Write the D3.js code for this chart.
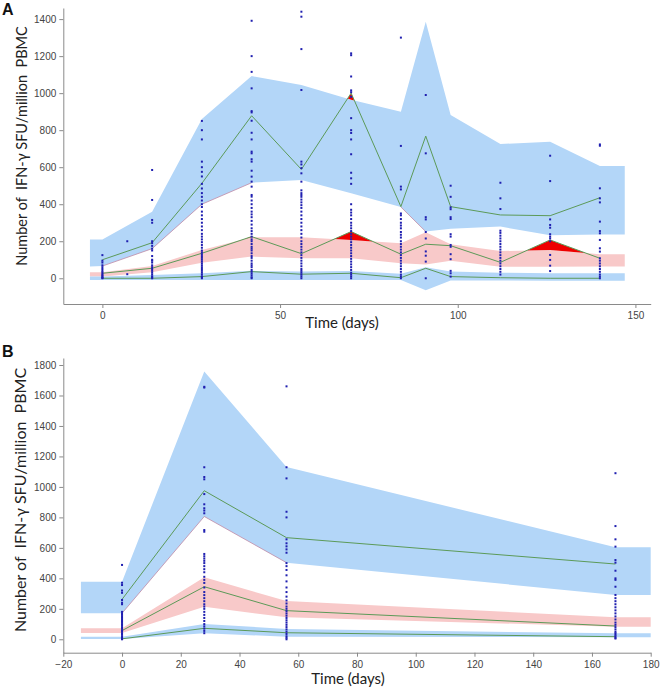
<!DOCTYPE html>
<html><head><meta charset="utf-8">
<script src="https://cdn.jsdelivr.net/npm/d3@7"></script>
<style>body{margin:0;background:#fff}svg{display:block}</style>
</head><body>
<script>
// ---------- Panel A data ----------
const aGrid   = [-3.5, 0, 14, 28, 42, 56, 70, 84, 91, 98, 112, 126, 140, 147];
const aHiTop  = [210, 210, 360, 860, 1092, 1044, 965, 900, 1386, 882, 725, 738, 606, 606];
const aHiBot  = [63, 66, 160, 400, 516, 531, 459, 385, 252, 268, 279, 232, 236, 236];
const aMidTop = [32, 32, 66, 153, 222, 221, 207, 189, 248, 184, 147, 153, 130, 130];
const aMidBot = [9, 9, 32, 84, 117, 108, 108, 81, 75, 95, 62, 62, 63, 63];
const aLoTop  = [9, 9, 18, 27, 40, 36, 39, 25, 60, 36, 30, 27, 27, 27];
const aLoBot  = [-9, -9, -10, -10, -10, -10, -10, -10, -65, -12, -12, -14, -14, -14];
const aTimes  = [0, 14, 28, 42, 56, 70, 84, 91, 98, 112, 126, 140];
const aP95    = [100, 192, 513, 878, 588, 1000, 387, 768, 387, 342, 338, 435];
const aP50    = [27, 54, 135, 225, 133, 252, 130, 184, 176, 86, 207, 108];
const aP5     = [0, 0, 9, 36, 22, 27, 3, 54, 9, 3, 0, 0];
const aEdgeSpans = [[0, 42], [84, 91]];
const aObsDays = [0, 7, 14, 28, 42, 56, 70, 84, 91, 98, 112, 126, 140];
const aObsVals = [
  [125, 95, 85, 70, 60, 50, 40, 32, 25, 18, 12, 6, 2, 0],
  [200, 22],
  [585, 423, 315, 300, 200, 190, 175, 160, 150, 120, 100, 95, 85, 70, 60, 50, 40, 30, 20, 10, 5, 0],
  [850, 800, 750, 630, 600, 575, 550, 510, 485, 460, 440, 420, 400, 385, 360, 340, 320, 300, 280, 260, 240, 225, 210, 195, 180, 165, 150, 140, 130, 120, 110, 100, 90, 80, 70, 60, 50, 40, 30, 20, 10, 5, 0],
  [1391, 1200, 1115, 1026, 903, 896, 851, 786, 750, 684, 675, 643, 630, 581, 549, 522, 495, 450, 441, 420, 400, 380, 360, 345, 330, 310, 290, 270, 255, 240, 225, 210, 200, 185, 170, 160, 150, 135, 120, 110, 95, 80, 70, 60, 45, 35, 25, 15, 5, 0],
  [1440, 1413, 1238, 1017, 630, 615, 595, 567, 522, 475, 460, 450, 440, 425, 410, 395, 380, 360, 340, 320, 300, 280, 260, 240, 220, 200, 185, 170, 155, 140, 125, 110, 95, 80, 65, 50, 40, 30, 20, 10, 0],
  [1215, 1205, 1090, 1015, 1005, 980, 865, 800, 785, 750, 670, 570, 540, 510, 400, 370, 355, 340, 320, 300, 285, 270, 255, 240, 225, 210, 195, 180, 165, 150, 135, 120, 105, 90, 75, 60, 45, 30, 20, 10, 0],
  [1300, 715, 495, 480, 350, 340, 320, 300, 285, 270, 250, 235, 220, 200, 185, 170, 155, 140, 125, 110, 95, 80, 65, 50, 35, 20, 10, 0],
  [990, 675, 330, 318, 250, 215, 145, 122, 90, 0],
  [500, 440, 383, 373, 330, 320, 238, 225, 180, 170, 130, 103, 40, 27, 9],
  [516, 432, 374, 257, 245, 230, 215, 200, 185, 170, 155, 140, 125, 110, 95, 80, 65, 50, 35, 20],
  [662, 525, 318, 288, 273, 238, 225, 215, 200, 126, 99, 68, 39],
  [723, 716, 486, 432, 410, 306, 255, 243, 207, 162, 144, 108, 95, 80, 65, 50, 35, 20, 9, 0]
];
const aYTicks = [0, 200, 400, 600, 800, 1000, 1200, 1400];
const aXTicks = [0, 50, 100, 150];

// ---------- Panel B data ----------
const bGrid   = [-14, 0, 28, 56, 168, 180];
const bHiTop  = [378, 378, 1758, 1130, 604, 604];
const bHiBot  = [171, 171, 806, 503, 291, 291];
const bMidTop = [72, 72, 407, 251, 144, 144];
const bMidBot = [42, 42, 214, 144, 83, 83];
const bLoTop  = [17, 17, 100, 68, 39, 39];
const bLoBot  = [2, 2, 39, 17, 13, 13];
const bTimes  = [0, 28, 56, 168];
const bP95    = [262, 975, 667, 494];
const bP50    = [57, 345, 188, 87];
const bP5     = [3, 72, 43, 17];
const bEdgeSpans = [[0, 56]];
const bObsDays = [0, 28, 56, 168];
const bObsVals = [
  [488, 371, 356, 320, 305, 258, 240, 230, 180, 170, 160, 150, 140, 130, 120, 110, 100, 90, 80, 70, 60, 50, 40, 30, 20, 10, 5, 0],
  [1657, 1652, 1129, 1065, 1050, 953, 886, 860, 845, 827, 717, 706, 560, 545, 530, 515, 500, 480, 460, 440, 410, 390, 370, 340, 310, 290, 270, 250, 230, 215, 200, 180, 160, 140, 120, 100, 85, 70, 55, 40],
  [1660, 1129, 1056, 837, 800, 656, 630, 610, 590, 568, 500, 480, 455, 420, 380, 340, 310, 280, 255, 235, 215, 200, 185, 170, 155, 140, 125, 110, 95, 80, 65, 50, 35, 20, 10, 0],
  [1090, 743, 656, 608, 520, 503, 450, 400, 390, 345, 291, 270, 250, 230, 210, 190, 170, 150, 130, 110, 95, 80, 65, 50, 40, 30, 20, 10, 5]
];
const bYTicks = [0, 200, 400, 600, 800, 1000, 1200, 1400, 1600, 1800];
const bXTicks = [-20, 0, 20, 40, 60, 80, 100, 120, 140, 160, 180];

const yLabel = "Number of  IFN-\u03b3 SFU/million  PBMC";
const xLabel = "Time (days)";

const BLUE = "#b3d6f8", PINK = "#f8c9c9", GREEN = "#5c9a58", RED = "#ee0000", DOT = "#1f1fb0";

const svg = d3.select("body").append("svg").attr("width", 660).attr("height", 692);
svg.append("rect").attr("width", 660).attr("height", 692).attr("fill", "#fff");

function interp(xs, ys, t) {
  for (let i = 0; i < xs.length - 1; i++) {
    if (t >= xs[i] && t <= xs[i + 1]) {
      const f = (t - xs[i]) / (xs[i + 1] - xs[i]);
      return ys[i] + f * (ys[i + 1] - ys[i]);
    }
  }
  return t < xs[0] ? ys[0] : ys[ys.length - 1];
}

function panel(cfg) {
  const g = svg.append("g");
  const x = d3.scaleLinear().domain(cfg.xDom).range(cfg.xRange);
  const y = d3.scaleLinear().domain(cfg.yDom).range(cfg.yRange);
  const band = (top, bot, color) => {
    const pts = cfg.grid.map((t, i) => ({t, a: top[i], b: bot[i]}));
    g.append("path").datum(pts)
      .attr("d", d3.area().x(d => x(d.t)).y0(d => y(d.b)).y1(d => y(d.a)))
      .attr("fill", color);
  };
  band(cfg.hiTop, cfg.hiBot, BLUE);
  band(cfg.midTop, cfg.midBot, PINK);
  band(cfg.loTop, cfg.loBot, BLUE);

  // thin edge along parts of the lower boundary of the upper band
  cfg.edgeSpans.forEach(([t0, t1]) => {
    const pts = cfg.grid.map((t, i) => [t, cfg.hiBot[i]]).filter(d => d[0] >= t0 && d[0] <= t1);
    g.append("path").datum(pts)
      .attr("d", d3.line().x(d => x(d[0])).y(d => y(d[1])))
      .attr("fill", "none").attr("stroke", "#c08aa6").attr("stroke-width", 0.8);
  });

  // red regions where observed percentile lies outside its CI band
  const exceed = (obs, edge, sign) => {
    const pts = [];
    const times = cfg.times;
    for (let i = 0; i < times.length; i++) {
      const e0 = interp(cfg.grid, edge, times[i]);
      const d0 = sign * (obs[i] - e0);
      pts.push({t: times[i], o: obs[i], e: e0, d: d0});
      if (i < times.length - 1) {
        const e1 = interp(cfg.grid, edge, times[i + 1]);
        const d1 = sign * (obs[i + 1] - e1);
        if (d0 * d1 < 0) {
          const f = d0 / (d0 - d1);
          const t = times[i] + f * (times[i + 1] - times[i]);
          const o = obs[i] + f * (obs[i + 1] - obs[i]);
          pts.push({t, o, e: o, d: 0});
        }
      }
    }
    g.append("path").datum(pts)
      .attr("d", d3.area().defined(d => d.d >= 0).x(d => x(d.t)).y0(d => y(d.e)).y1(d => y(d.o)))
      .attr("fill", RED);
  };
  [[cfg.p95, cfg.hiTop, cfg.hiBot], [cfg.p50, cfg.midTop, cfg.midBot], [cfg.p5, cfg.loTop, cfg.loBot]]
    .forEach(([o, t, b]) => { exceed(o, t, 1); exceed(o, b, -1); });

  // observed percentile lines
  [cfg.p95, cfg.p50, cfg.p5].forEach(vals => {
    g.append("path").datum(cfg.times.map((t, i) => [t, vals[i]]))
      .attr("d", d3.line().x(d => x(d[0])).y(d => y(d[1])))
      .attr("fill", "none").attr("stroke", GREEN).attr("stroke-width", 1);
  });

  // observations
  const dots = [];
  cfg.obsDays.forEach((d, i) => cfg.obsVals[i].forEach(v => dots.push([d, v])));
  g.selectAll(null).data(dots).enter().append("rect")
    .attr("x", d => x(d[0]) - 1).attr("y", d => y(d[1]) - 1)
    .attr("width", 2).attr("height", 2).attr("fill", DOT);

  // axes
  const ax = g.append("g").attr("transform", `translate(0,${cfg.yRange[0]})`)
    .call(d3.axisBottom(x).tickValues(cfg.xTicks).tickFormat(d3.format("d")).tickSize(4).tickSizeOuter(0).tickPadding(4));
  const ay = g.append("g").attr("transform", `translate(${cfg.xRange[0]},0)`)
    .call(d3.axisLeft(y).tickValues(cfg.yTicks).tickFormat(d3.format("d")).tickSize(4).tickSizeOuter(0).tickPadding(3));
  [ax, ay].forEach(a => {
    a.attr("font-family", null);
    a.select(".domain").attr("stroke", "#8a8a8a");
    a.selectAll(".tick line").attr("stroke", "#8a8a8a");
    a.selectAll(".tick text").attr("fill", "#444").style("font-family", "'Liberation Sans', Arial, sans-serif").style("font-size", "10px");
  });

  g.append("text").attr("x", cfg.xLabelPos[0]).attr("y", cfg.xLabelPos[1])
    .attr("text-anchor", "middle").style("font-family", "Lato, sans-serif").style("font-size", "15px")
    .attr("fill", "#222").text(xLabel);
  g.append("text").attr("transform", `translate(${cfg.yLabelPos[0]},${cfg.yLabelPos[1]}) rotate(-90)`)
    .attr("text-anchor", "middle").style("font-family", "Lato, sans-serif").style("font-size", cfg.yLabelSize)
    .attr("fill", "#222").style("white-space", "pre").text(yLabel);
  g.append("text").attr("x", 2).attr("y", cfg.tagY)
    .style("font-family", "'Liberation Sans', Arial, sans-serif").style("font-size", "16px").style("font-weight", "bold")
    .attr("fill", "#111").text(cfg.tag);
}

panel({
  tag: "A", tagY: 15,
  xDom: [-11, 154.3], xRange: [63.3, 650.7],
  yDom: [-139, 1460], yRange: [304, 8],
  grid: aGrid, hiTop: aHiTop, hiBot: aHiBot, midTop: aMidTop, midBot: aMidBot, loTop: aLoTop, loBot: aLoBot,
  times: aTimes, p95: aP95, p50: aP50, p5: aP5, edgeSpans: aEdgeSpans,
  obsDays: aObsDays, obsVals: aObsVals,
  xTicks: aXTicks, yTicks: aYTicks,
  xLabelPos: [342, 328], yLabelPos: [27, 146], yLabelSize: "14.5px"
});
panel({
  tag: "B", tagY: 357,
  xDom: [-20, 180], xRange: [63.3, 650.7],
  yDom: [-88, 1846], yRange: [652.7, 358],
  grid: bGrid, hiTop: bHiTop, hiBot: bHiBot, midTop: bMidTop, midBot: bMidBot, loTop: bLoTop, loBot: bLoBot,
  times: bTimes, p95: bP95, p50: bP50, p5: bP5, edgeSpans: bEdgeSpans,
  obsDays: bObsDays, obsVals: bObsVals,
  xTicks: bXTicks, yTicks: bYTicks,
  xLabelPos: [348, 684], yLabelPos: [26, 500], yLabelSize: "16px"
});
</script>
</body></html>
